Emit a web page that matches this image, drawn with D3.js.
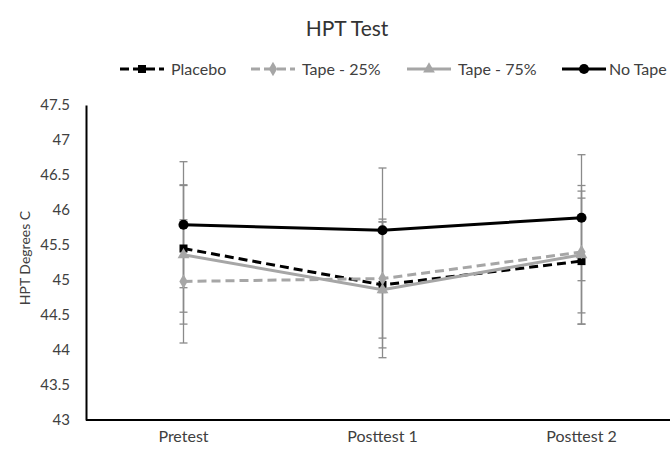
<!DOCTYPE html>
<html>
<head>
<meta charset="utf-8">
<script src="https://cdn.jsdelivr.net/npm/d3@7"></script>
<style>
  body { margin: 0; background: #fff; }
  svg { display: block; font-family: Lato, "Open Sans", sans-serif; }
</style>
</head>
<body>
<svg width="670" height="451"></svg>
<script>
const categories = ['Pretest', 'Posttest 1', 'Posttest 2'];
const yTicks = [43, 43.5, 44, 44.5, 45, 45.5, 46, 46.5, 47, 47.5];

const placebo = [45.45, 44.93, 45.27];
const placeboErr = [0.91, 0.90, 0.90];
const tape25 = [44.98, 45.02, 45.40];
const tape25Err = [0.88, 0.85, 0.87];
const tape75 = [45.36, 44.86, 45.36];
const tape75Err = [0.99, 0.97, 0.99];
const noTape = [45.79, 45.71, 45.89];
const noTapeErr = [0.90, 0.89, 0.90];

const series = [
  { name: 'Placebo', values: placebo, err: placeboErr, color: '#000', dash: '9,5', marker: d3.symbolSquare, size: 64 },
  { name: 'Tape - 25%', values: tape25, err: tape25Err, color: '#a6a6a6', dash: '9,5', marker: d3.symbolDiamond, size: 60 },
  { name: 'Tape - 75%', values: tape75, err: tape75Err, color: '#a6a6a6', dash: null, marker: d3.symbolTriangle, size: 60 },
  { name: 'No Tape', values: noTape, err: noTapeErr, color: '#000', dash: null, marker: d3.symbolCircle, size: 80 }
];

const svg = d3.select('svg');

var x = d3.scaleBand().domain(categories).range([84, 681]);
var y = d3.scaleLinear().domain([43, 47.5]).range([420, 105]);
var cx = function (c) { return x(c) + x.bandwidth() / 2; };

// title
svg.append('text')
  .attr('x', 347).attr('y', 36)
  .attr('text-anchor', 'middle')
  .style('font-size', '21px').style('fill', '#333')
  .text('HPT Test');

// y axis
var leftAxis = d3.axisLeft(y).tickValues(yTicks).tickSize(0).tickSizeOuter(0).tickPadding(16)
  .tickFormat(function (d) { return String(d); });
var gy = svg.append('g').attr('transform', 'translate(86,0)').call(leftAxis);
gy.select('.domain').attr('stroke', '#000').attr('stroke-width', 2);
gy.selectAll('text').style('font-size', '15px').style('fill', '#404040').style('font-family', 'Lato, sans-serif');

// x axis
var bottomAxis = d3.axisBottom(x).tickSize(0).tickSizeOuter(0).tickPadding(11);
var gx = svg.append('g').attr('transform', 'translate(0,420)').call(bottomAxis);
gx.select('.domain').attr('stroke', '#000').attr('stroke-width', 2).attr('d', 'M86,0H670');
gx.selectAll('text').style('font-size', '16px').style('fill', '#404040').style('font-family', 'Lato, sans-serif');

// y axis title
svg.append('text')
  .attr('transform', 'translate(30,258) rotate(-90)')
  .attr('text-anchor', 'middle')
  .style('font-size', '14px').style('fill', '#404040')
  .text('HPT Degrees C');

// error bars
series.forEach(function (s) {
  var g = svg.append('g').attr('stroke', '#8a8a8a').attr('stroke-width', 1.3);
  categories.forEach(function (c, i) {
    var lo = y(s.values[i] - s.err[i]), hi = y(s.values[i] + s.err[i]);
    g.append('line').attr('x1', cx(c)).attr('x2', cx(c)).attr('y1', lo).attr('y2', hi);
    g.append('line').attr('x1', cx(c) - 4).attr('x2', cx(c) + 4).attr('y1', lo).attr('y2', lo);
    g.append('line').attr('x1', cx(c) - 4).attr('x2', cx(c) + 4).attr('y1', hi).attr('y2', hi);
  });
});

var line = d3.line()
  .x(function (d, i) { return cx(categories[i]); })
  .y(function (d) { return y(d); });

series.forEach(function (s) {
  svg.append('path')
    .attr('d', line(s.values))
    .attr('fill', 'none')
    .attr('stroke', s.color)
    .attr('stroke-width', 3)
    .attr('stroke-dasharray', s.dash);
  svg.selectAll(null).data(s.values).enter()
    .append('path')
    .attr('d', d3.symbol().type(s.marker).size(s.size))
    .attr('transform', function (d, i) { return 'translate(' + cx(categories[i]) + ',' + y(d) + ')'; })
    .attr('fill', s.color);
});

// legend
var legendX = [120, 251, 407, 562];
var legend = svg.append('g').attr('transform', 'translate(0,69)');
series.forEach(function (s, i) {
  var lg = legend.append('g').attr('transform', 'translate(' + legendX[i] + ',0)');
  lg.append('line').attr('x1', 0).attr('x2', 44).attr('y1', 0).attr('y2', 0)
    .attr('stroke', s.color).attr('stroke-width', 3).attr('stroke-dasharray', s.dash ? '9,4' : null);
  lg.append('path').attr('d', d3.symbol().type(s.marker).size(s.size))
    .attr('transform', 'translate(22,0)').attr('fill', s.color);
  lg.append('text').attr('x', i === 3 ? 47 : 51).attr('y', 5.5)
    .style('font-size', '16px').style('fill', '#404040')
    .text(s.name);
});
</script>
</body>
</html>
